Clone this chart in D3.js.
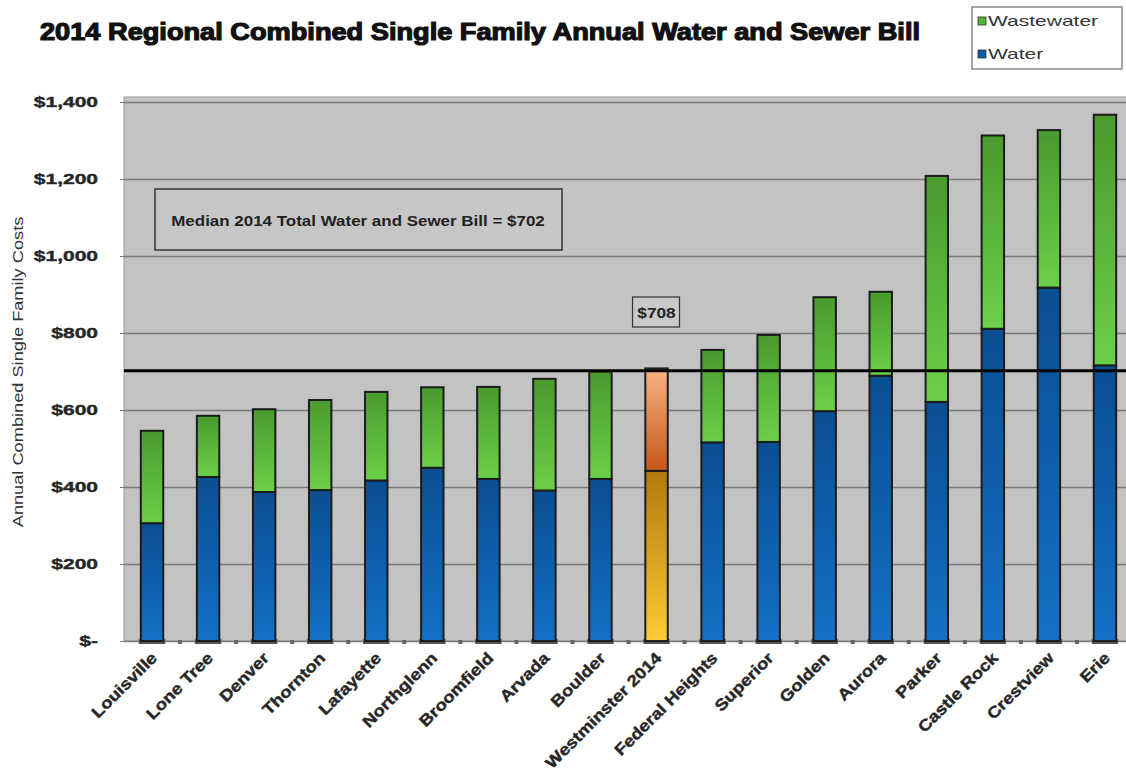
<!DOCTYPE html>
<html>
<head>
<meta charset="utf-8">
<script src="https://cdn.jsdelivr.net/npm/d3@7"></script>
<style>
  body { margin: 0; background: #fff; }
  svg { display: block; font-family: "Liberation Sans", Arial, sans-serif; }
</style>
</head>
<body>
<div id="chart"></div>
<script>
// values
var cities = ['Louisville', 'Lone Tree', 'Denver', 'Thornton', 'Lafayette', 'Northglenn',
    'Broomfield', 'Arvada', 'Boulder', 'Westminster 2014', 'Federal Heights', 'Superior',
    'Golden', 'Aurora', 'Parker', 'Castle Rock', 'Crestview', 'Erie'];
var water = [306, 426, 387, 392, 417, 450, 421, 391, 421, 442, 516, 517, 597, 689, 621, 811, 918, 716];
var wastewater = [240, 159, 215, 234, 230, 209, 239, 290, 279, 266, 240, 278, 296, 218, 587, 502, 409, 651];
var yTicks = [0, 200, 400, 600, 800, 1000, 1200, 1400];
var median = 702;
var highlight = 'Westminster 2014';
var highlightLabel = '$708';

var width = 1126,
    height = 777,
    plotLeft = 124,
    plotRight = 1133,
    plotTop = 102,
    plotBottom = 641;

var svg = d3.select('#chart').append('svg')
    .attr('width', width)
    .attr('height', height);

// the source picture is stretched sideways, so widen text to match
function stretch(sel, factor) {
    sel.each(function () {
        var len = this.getComputedTextLength();
        d3.select(this).attr('textLength', len * factor).attr('lengthAdjust', 'spacingAndGlyphs');
    });
}

var defs = svg.append('defs');
function grad(id, c1, c2) {
    var g = defs.append('linearGradient').attr('id', id)
        .attr('x1', 0).attr('y1', 0).attr('x2', 0).attr('y2', 1);
    g.append('stop').attr('offset', '0%').attr('stop-color', c1);
    g.append('stop').attr('offset', '100%').attr('stop-color', c2);
}
grad('gWaste', '#4a9a2e', '#6ccf48');
grad('gWater', '#0a4e92', '#1470c6');
grad('gOrange', '#f9b482', '#c4561a');
grad('gGold', '#b07a0e', '#ffca33');

var x = d3.scaleBand().domain(cities).range([plotLeft, plotRight]).paddingInner(0.6).paddingOuter(0.3);
var y = d3.scaleLinear().domain([0, 1400]).range([plotBottom, plotTop]);

// plot area
svg.append('rect')
    .attr('x', plotLeft).attr('y', plotTop - 5)
    .attr('width', plotRight - plotLeft).attr('height', plotBottom - plotTop + 5)
    .attr('fill', '#c3c3c3')
    .attr('stroke', '#9a9a9a');

// gridlines
svg.append('g')
    .attr('transform', 'translate(' + plotLeft + ',0)')
    .call(d3.axisLeft(y).tickValues(yTicks).tickSize(-(plotRight - plotLeft)).tickFormat(''))
    .call(function (g) {
        g.select('.domain').remove();
        g.selectAll('line').attr('stroke', '#7a7a7a').attr('stroke-width', 1.5);
    });

// y axis labels
svg.append('g')
    .attr('transform', 'translate(' + plotLeft + ',0)')
    .call(d3.axisLeft(y).tickValues(yTicks).tickSize(4).tickPadding(22)
        .tickFormat(function (v) { return v === 0 ? '$-' : '$' + d3.format(',')(v); }))
    .call(function (g) {
        g.select('.domain').remove();
        g.selectAll('line').attr('stroke', '#7a7a7a');
        g.selectAll('text')
            .attr('fill', '#262626')
            .style('font-size', '15px')
            .style('font-weight', 'bold')
            .style('stroke', '#262626').style('stroke-width', 0.4)
            .call(stretch, 1.4);
    });

svg.append('text')
    .attr('transform', 'translate(23,' + 372 + ') rotate(-90)')
    .attr('text-anchor', 'middle')
    .attr('fill', '#333')
    .style('font-size', '14px')
    .text('Annual Combined Single Family Costs')
    .call(stretch, 1.3);

// bars
var bw = x.bandwidth();
var bars = svg.append('g').selectAll('g').data(cities).enter().append('g');

bars.append('rect')
    .attr('x', function (d) { return x(d) - 2; })
    .attr('y', plotBottom - 2)
    .attr('width', bw + 4)
    .attr('height', 5)
    .attr('fill', '#555');

bars.append('rect')
    .attr('x', function (d) { return x(d); })
    .attr('y', function (d, i) { return y(water[i]); })
    .attr('width', bw)
    .attr('height', function (d, i) { return plotBottom - y(water[i]); })
    .attr('fill', function (d) { return d === highlight ? 'url(#gGold)' : 'url(#gWater)'; })
    .attr('stroke', '#1c1c1c').attr('stroke-width', 2);

bars.append('rect')
    .attr('x', function (d) { return x(d); })
    .attr('y', function (d, i) { return y(water[i] + wastewater[i]); })
    .attr('width', bw)
    .attr('height', function (d, i) { return y(water[i]) - y(water[i] + wastewater[i]); })
    .attr('fill', function (d) { return d === highlight ? 'url(#gOrange)' : 'url(#gWaste)'; })
    .attr('stroke', '#1c1c1c').attr('stroke-width', 2);

// small x ticks between bars
svg.append('g').selectAll('rect').data(cities.slice(1)).enter().append('rect')
    .attr('x', function (d) { return x(d) - x.step() * 0.3 - 2; })
    .attr('y', plotBottom - 1)
    .attr('width', 4).attr('height', 4)
    .attr('fill', '#666');

// x labels
svg.append('g').selectAll('text').data(cities).enter().append('text')
    .attr('transform', function (d) {
        return 'translate(' + (x(d) + bw / 2 + 6) + ',' + (plotBottom + 18) + ') rotate(-45)';
    })
    .attr('text-anchor', 'end')
    .attr('fill', '#262626')
    .style('font-size', '16px')
    .style('font-weight', 'bold')
    .style('stroke', '#262626').style('stroke-width', 0.4)
    .text(function (d) { return d; })
    .call(stretch, 1.15);

// median line
svg.append('line')
    .attr('x1', plotLeft).attr('x2', width)
    .attr('y1', y(median)).attr('y2', y(median))
    .attr('stroke', '#000').attr('stroke-width', 3);

// median note
svg.append('rect')
    .attr('x', 155).attr('y', 189).attr('width', 407).attr('height', 61)
    .attr('fill', '#c6c6c6').attr('stroke', '#333').attr('stroke-width', 1.5);
svg.append('text')
    .attr('x', 358).attr('y', 226)
    .attr('text-anchor', 'middle')
    .attr('fill', '#222')
    .style('font-size', '15px').style('font-weight', 'bold')
    .text('Median 2014 Total Water and Sewer Bill = $' + median)
    .call(stretch, 1.13);

// highlight label
var hx = x(highlight) + bw / 2;
svg.append('rect')
    .attr('x', hx - 24).attr('y', 297).attr('width', 47).attr('height', 30)
    .attr('fill', '#c9c9c9').attr('stroke', '#333').attr('stroke-width', 1.2);
svg.append('text')
    .attr('x', hx).attr('y', 318)
    .attr('text-anchor', 'middle')
    .attr('fill', '#222')
    .style('font-size', '15px').style('font-weight', 'bold')
    .text(highlightLabel)
    .call(stretch, 1.15);

// title
svg.append('text')
    .attr('x', 40).attr('y', 40)
    .attr('textLength', 880)
    .attr('lengthAdjust', 'spacingAndGlyphs')
    .attr('fill', '#111')
    .style('font-size', '24px').style('font-weight', 'bold')
    .style('stroke', '#111').style('stroke-width', 1.2)
    .text('2014 Regional Combined Single Family Annual Water and Sewer Bill');

// legend
var legend = svg.append('g').attr('transform', 'translate(972,7)');
legend.append('rect')
    .attr('width', 150).attr('height', 62)
    .attr('fill', '#fff').attr('stroke', '#888').attr('stroke-width', 1.5);
var items = [['Wastewater', '#55b43a'], ['Water', '#0d5ca8']];
items.forEach(function (it, i) {
    legend.append('rect')
        .attr('x', 6).attr('y', 10 + i * 33)
        .attr('width', 8).attr('height', 8)
        .attr('fill', it[1]).attr('stroke', '#333').attr('stroke-width', 0.8);
    legend.append('text')
        .attr('x', 16).attr('y', 19 + i * 33)
        .attr('fill', '#333')
        .style('font-size', '15px')
        .text(it[0])
        .call(stretch, 1.4);
});
</script>
</body>
</html>
